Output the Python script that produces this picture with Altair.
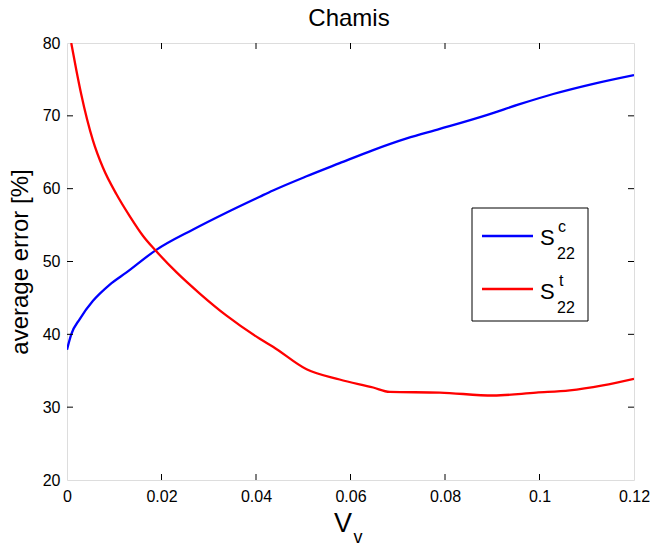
import altair as alt
import pandas as pd

# ---- data ----
blue_x = [0, 0.0009, 0.0027, 0.0055, 0.009, 0.0126, 0.0189, 0.0267, 0.0337, 0.0408,
          0.0436, 0.0507, 0.0577, 0.0648, 0.0719, 0.0789, 0.0888, 0.0958, 0.1029, 0.1114, 0.12]
blue_y = [37.9, 40.0, 42.1, 44.6, 46.8, 48.5, 51.6, 54.4, 56.7, 58.9,
          59.75, 61.7, 63.5, 65.3, 66.9, 68.2, 70.1, 71.6, 73.0, 74.4, 75.6]

red_x = [0.0009, 0.002, 0.003, 0.0055, 0.0076, 0.0105, 0.0133, 0.0161, 0.0189,
         0.0232, 0.0281, 0.0337, 0.0408, 0.0436, 0.0507, 0.0577, 0.0648, 0.0683, 0.0789,
         0.0902, 0.0993, 0.1064, 0.1134, 0.12]
red_y = [80.0, 76.2, 73.0, 66.6, 62.9, 59.2, 56.2, 53.5, 51.4,
         48.5, 45.6, 42.6, 39.4, 38.3, 35.2, 33.8, 32.7, 32.1, 32.0,
         31.6, 32.0, 32.3, 33.0, 33.9]

series_names = ["S22c", "S22t"]
series_colors = ["#0000FF", "#FF0000"]

x_ticks = [0, 0.02, 0.04, 0.06, 0.08, 0.1, 0.12]
y_ticks = [20, 30, 40, 50, 60, 70, 80]
x_inner_ticks = [0.02, 0.04, 0.06, 0.08, 0.1]
y_inner_ticks = [30, 40, 50, 60, 70]

W, H = 567, 437
FONT = "Liberation Sans"

df = pd.DataFrame({
    "x": blue_x + red_x,
    "y": blue_y + red_y,
    "s": [series_names[0]] * len(blue_x) + [series_names[1]] * len(red_x),
    "o": list(range(len(blue_x))) + list(range(len(red_x))),
})

xscale = alt.Scale(domain=[0, 0.12], nice=False, zero=False)
yscale = alt.Scale(domain=[20, 80], nice=False, zero=False)

lines = alt.Chart(df).mark_line(strokeWidth=2.3, clip=True, interpolate="monotone").encode(
    x=alt.X("x:Q", scale=xscale,
            axis=alt.Axis(values=x_ticks, title=None, ticks=False, domain=False, grid=False,
                          labelFont=FONT, labelFontSize=16, labelColor="black",
                          labelPadding=8, labelExpr="format(datum.value, '~g')",
                          labelFlush=False)),
    y=alt.Y("y:Q", scale=yscale,
            axis=alt.Axis(values=y_ticks, title="average error [%]", ticks=False, domain=False,
                          grid=False, labelFont=FONT, labelFontSize=16, labelColor="black",
                          labelPadding=7, titleFont=FONT, titleFontSize=24,
                          titleFontWeight="normal", titleColor="black", titleX=-35)),
    color=alt.Color("s:N", scale=alt.Scale(domain=series_names, range=series_colors), legend=None),
    order="o:Q",
)

xt = pd.DataFrame({"x": x_inner_ticks})
yt = pd.DataFrame({"y": y_inner_ticks})
tick_style = dict(color="black", strokeWidth=1)
xb = alt.Chart(xt).mark_rule(**tick_style).encode(x=alt.X("x:Q", scale=xscale), y=alt.value(H), y2=alt.value(H - 6))
xtop = alt.Chart(xt).mark_rule(**tick_style).encode(x=alt.X("x:Q", scale=xscale), y=alt.value(0), y2=alt.value(6))
yl = alt.Chart(yt).mark_rule(**tick_style).encode(y=alt.Y("y:Q", scale=yscale), x=alt.value(0), x2=alt.value(6))
yr = alt.Chart(yt).mark_rule(**tick_style).encode(y=alt.Y("y:Q", scale=yscale), x=alt.value(W), x2=alt.value(W - 6))

ox, oy = 67, 43


def txt(t, x, y, size, align="left"):
    return alt.Chart(pd.DataFrame({"t": [t]})).mark_text(
        font=FONT, fontSize=size, align=align, baseline="alphabetic", color="black"
    ).encode(text="t:N", x=alt.value(x - ox), y=alt.value(y - oy))


# title and x-axis title (V with subscript v)
title = txt("Chamis", 349, 26, 24, "center")
xtitle_V = txt("V", 343, 532, 27, "center")
xtitle_v = txt("v", 358, 543, 18, "center")

# legend box
legend_box = alt.Chart(pd.DataFrame({"a": [0]})).mark_rect(
    fill="white", stroke="black", strokeWidth=1
).encode(x=alt.value(472 - ox), x2=alt.value(588 - ox), y=alt.value(208 - oy), y2=alt.value(321 - oy))

leg_rows = pd.DataFrame({"s": series_names, "ly": [236 - oy, 289 - oy]})
leg_lines = alt.Chart(leg_rows).mark_rule(strokeWidth=2.5).encode(
    x=alt.value(482 - ox), x2=alt.value(533 - ox),
    y=alt.Y("ly:Q", scale=None),
    color=alt.Color("s:N", scale=alt.Scale(domain=series_names, range=series_colors), legend=None),
)

leg_texts = [
    txt("S", 540, 245, 22), txt("c", 558, 232, 16), txt("22", 557, 259, 16),
    txt("S", 540, 299, 22), txt("t", 559, 286, 16), txt("22", 557, 313, 16),
]

chart = alt.layer(
    lines, xb, xtop, yl, yr, title, xtitle_V, xtitle_v, legend_box, leg_lines, *leg_texts
).properties(
    width=W, height=H,
    autosize=alt.AutoSizeParams(type="none"),
    padding={"left": 67, "top": 43, "right": 19, "bottom": 69},
).configure_view(stroke="black", strokeWidth=1).configure(background="white")

chart.save("out.html", embed_options={"renderer": "svg", "actions": False})
